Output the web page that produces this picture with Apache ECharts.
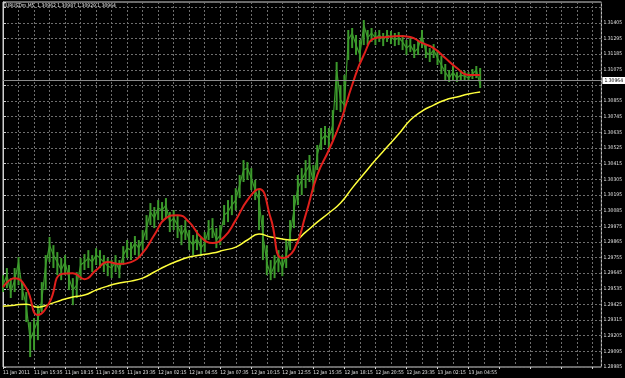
<!DOCTYPE html>
<html>
<head>
<meta charset="utf-8">
<script src="https://cdn.jsdelivr.net/npm/echarts@6/dist/echarts.min.js"></script>
<style>
  html, body { margin: 0; padding: 0; background: #000; }
  #chart { width: 625px; height: 378px; }
</style>
</head>
<body>
<div id="chart"></div>
<script>
  // chart header and last bid
  const symbolTitle = 'EURUSDm,M5  1.30962 1.30987 1.30929 1.30964'
  const lastPrice = 1.30964

  // time labels, one every 32 bars
  const timeLabels = [
    '11 Jan 2011', '11 Jan 15:35', '11 Jan 18:15', '11 Jan 20:55', '11 Jan 23:35',
    '12 Jan 02:15', '12 Jan 04:55', '12 Jan 07:35', '12 Jan 10:15', '12 Jan 12:55',
    '12 Jan 15:35', '12 Jan 18:15', '12 Jan 20:55', '12 Jan 23:35', '13 Jan 02:15',
    '13 Jan 04:55',
  ]

  // price (green), one sample every 4 bars
  const priceStep = 4
  const priceClose = [
    1.29561, 1.29631, 1.29512, 1.29596, 1.29723, 1.29526, 1.29420, 1.29174, 1.29244, 1.29315,
    1.29456, 1.29702, 1.29842, 1.29772, 1.29723, 1.29667, 1.29723, 1.29610, 1.29526, 1.29561,
    1.29702, 1.29723, 1.29751, 1.29723, 1.29772, 1.29751, 1.29723, 1.29695, 1.29681, 1.29723,
    1.29667, 1.29772, 1.29821, 1.29807, 1.29857, 1.29821, 1.29878, 1.29962, 1.30075, 1.30032,
    1.30103, 1.30089, 1.30124, 1.30004, 1.30032, 1.29983, 1.29913, 1.29962, 1.29878, 1.29842,
    1.29892, 1.29821, 1.29857, 1.29948, 1.29962, 1.29878, 1.29913, 1.30053, 1.30075, 1.30124,
    1.30159, 1.30265, 1.30370, 1.30384, 1.30314, 1.30229, 1.30159, 1.29913, 1.29723, 1.29631,
    1.29702, 1.29751, 1.29681, 1.29772, 1.29913, 1.30089, 1.30243, 1.30300, 1.30356, 1.30405,
    1.30286, 1.30476, 1.30581, 1.30616, 1.30595, 1.30687, 1.31074, 1.30863, 1.30827, 1.31285,
    1.31334, 1.31249, 1.31179, 1.31390, 1.31299, 1.31334, 1.31299, 1.31320, 1.31285, 1.31320,
    1.31306, 1.31285, 1.31299, 1.31271, 1.31228, 1.31249, 1.31200, 1.31228, 1.31320, 1.31200,
    1.31179, 1.31214, 1.31158, 1.31109, 1.31060, 1.31017, 1.31060, 1.31017, 1.31038, 1.31031,
    1.31017, 1.31045, 1.31074, 1.30964,
  ]
  const priceHigh = [
    1.29631, 1.29681, 1.29610, 1.29681, 1.29758, 1.29582, 1.29512, 1.29301, 1.29329, 1.29420,
    1.29582, 1.29772, 1.29899, 1.29842, 1.29793, 1.29751, 1.29772, 1.29702, 1.29610, 1.29652,
    1.29751, 1.29779, 1.29807, 1.29772, 1.29821, 1.29807, 1.29772, 1.29751, 1.29737, 1.29772,
    1.29737, 1.29835, 1.29878, 1.29864, 1.29906, 1.29878, 1.29948, 1.30053, 1.30138, 1.30110,
    1.30159, 1.30145, 1.30173, 1.30075, 1.30089, 1.30053, 1.29983, 1.30018, 1.29948, 1.29913,
    1.29948, 1.29892, 1.29934, 1.30018, 1.30032, 1.29962, 1.29983, 1.30124, 1.30159, 1.30194,
    1.30243, 1.30335, 1.30440, 1.30426, 1.30384, 1.30300, 1.30229, 1.30053, 1.29842, 1.29737,
    1.29772, 1.29807, 1.29772, 1.29878, 1.30018, 1.30194, 1.30335, 1.30384, 1.30440, 1.30476,
    1.30405, 1.30546, 1.30666, 1.30680, 1.30666, 1.30792, 1.31130, 1.30968, 1.31038, 1.31355,
    1.31369, 1.31320, 1.31285, 1.31425, 1.31355, 1.31369, 1.31341, 1.31355, 1.31334, 1.31355,
    1.31348, 1.31334, 1.31341, 1.31320, 1.31285, 1.31299, 1.31256, 1.31285, 1.31355, 1.31256,
    1.31228, 1.31256, 1.31214, 1.31172, 1.31116, 1.31074, 1.31102, 1.31059, 1.31074, 1.31067,
    1.31059, 1.31081, 1.31102, 1.31088,
  ]
  const priceLow = [
    1.29512, 1.29540, 1.29470, 1.29512, 1.29561, 1.29455, 1.29301, 1.29055, 1.29104, 1.29174,
    1.29371, 1.29526, 1.29723, 1.29681, 1.29631, 1.29596, 1.29631, 1.29526, 1.29420, 1.29470,
    1.29596, 1.29667, 1.29681, 1.29652, 1.29702, 1.29681, 1.29652, 1.29624, 1.29610, 1.29652,
    1.29610, 1.29702, 1.29751, 1.29737, 1.29772, 1.29751, 1.29807, 1.29878, 1.29983, 1.29962,
    1.30018, 1.30018, 1.30032, 1.29934, 1.29948, 1.29892, 1.29842, 1.29878, 1.29807, 1.29772,
    1.29807, 1.29765, 1.29793, 1.29878, 1.29892, 1.29821, 1.29842, 1.29983, 1.30004, 1.30053,
    1.30089, 1.30173, 1.30286, 1.30300, 1.30229, 1.30159, 1.29948, 1.29737, 1.29631, 1.29596,
    1.29610, 1.29652, 1.29624, 1.29681, 1.29807, 1.29962, 1.30124, 1.30194, 1.30243, 1.30286,
    1.30215, 1.30370, 1.30511, 1.30546, 1.30525, 1.30581, 1.30792, 1.30778, 1.30778, 1.31144,
    1.31228, 1.31179, 1.31130, 1.31249, 1.31249, 1.31271, 1.31249, 1.31271, 1.31242, 1.31271,
    1.31256, 1.31242, 1.31249, 1.31214, 1.31179, 1.31200, 1.31158, 1.31179, 1.31228, 1.31158,
    1.31130, 1.31158, 1.31109, 1.31045, 1.31003, 1.30989, 1.31003, 1.30989, 1.31003, 1.31003,
    1.30996, 1.31010, 1.31017, 1.30947,
  ]

  // moving averages, one value every 12 bars
  const maStep = 12
  const maFast = [
    1.29547, 1.29610, 1.29540, 1.29350, 1.29441, 1.29638, 1.29645, 1.29603, 1.29666, 1.29723,
    1.29709, 1.29723, 1.29787, 1.29913, 1.30032, 1.30053, 1.30004, 1.29899, 1.29857, 1.29899,
    1.30018, 1.30159, 1.30236, 1.30032, 1.29751, 1.29808, 1.30053, 1.30335, 1.30511, 1.30708,
    1.30968, 1.31179, 1.31299, 1.31306, 1.31313, 1.31306, 1.31264, 1.31228, 1.31158, 1.31088,
    1.31038, 1.31038,
  ]
  const maSlow = [
    1.29413, 1.29420, 1.29427, 1.29406, 1.29427, 1.29455, 1.29477, 1.29491, 1.29526, 1.29554,
    1.29575, 1.29589, 1.29610, 1.29653, 1.29695, 1.29730, 1.29758, 1.29772, 1.29786, 1.29807,
    1.29828, 1.29878, 1.29920, 1.29899, 1.29885, 1.29878, 1.29934, 1.30004, 1.30068, 1.30138,
    1.30243, 1.30342, 1.30440, 1.30532, 1.30623, 1.30722, 1.30785, 1.30827, 1.30863, 1.30884,
    1.30905, 1.30919,
  ]

  // axis range
  const yMin = 1.28985
  const yMax = 1.31552
  const yStep = 0.0011
  const xMax = 617

  const toPairs = (arr, step) => arr.map((v, i) => [i * step, v])
  const smallFont = "'Liberation Sans Narrow', 'DejaVu Sans Condensed', 'Liberation Sans', sans-serif"
  const gridLine = { show: true, lineStyle: { color: '#6e6e6e', type: [2, 2], width: 1 } }
  const greenColor = '#3c9a2c'

  const chart = echarts.init(document.getElementById('chart'))
  chart.setOption({
    backgroundColor: '#000',
    animation: false,
    // header text top-left
    graphic: [
      {
        type: 'text',
        left: 3,
        top: 3,
        style: { text: symbolTitle, fill: '#e8e8e8', font: '5px ' + smallFont },
      },
    ],
    grid: {
      left: 1,
      right: 21,
      top: 2,
      bottom: 11,
      show: true,
      borderColor: '#d0d0d0',
      borderWidth: 1,
    },
    xAxis: {
      type: 'value',
      min: 0,
      max: xMax,
      interval: 32,
      axisLine: { show: false },
      axisTick: { show: true, length: 2, lineStyle: { color: '#d0d0d0' } },
      axisLabel: {
        align: 'left',
        margin: 3,
        fontSize: 5,
        fontFamily: smallFont,
        color: '#e0e0e0',
        interval: 0,
        hideOverlap: false,
        showMinLabel: true,
        showMaxLabel: false,
        formatter: (v) => (v % 32 === 0 && timeLabels[v / 32]) || '',
      },
      splitLine: gridLine,
      minorTick: { show: false, splitNumber: 2 },
      minorSplitLine: gridLine,
    },
    yAxis: {
      type: 'value',
      position: 'right',
      min: yMin,
      max: yMax,
      interval: yStep,
      axisLine: { show: true, lineStyle: { color: '#d0d0d0' } },
      axisTick: { show: true, inside: false, length: 3, lineStyle: { color: '#d0d0d0' } },
      axisLabel: {
        margin: 2,
        fontSize: 5,
        fontFamily: smallFont,
        color: '#e0e0e0',
        interval: 0,
        hideOverlap: false,
        showMinLabel: true,
        formatter: (v) =>
          v > yMax - yStep / 2 || Math.abs(v - lastPrice) < yStep / 3 ? '' : v.toFixed(5),
      },
      splitLine: gridLine,
    },
    series: [
      // high-low range of the price bars
      {
        name: 'range',
        type: 'custom',
        data: priceHigh.map((h, i) => [i * priceStep, priceLow[i], h]),
        encode: { x: 0, y: [1, 2] },
        renderItem: (params, api) => {
          const lo = api.coord([api.value(0), api.value(1)])
          const hi = api.coord([api.value(0), api.value(2)])
          return {
            type: 'line',
            shape: { x1: lo[0], y1: lo[1], x2: hi[0], y2: hi[1] },
            style: { stroke: greenColor, lineWidth: 2 },
          }
        },
        z: 1,
      },
      {
        name: 'price',
        type: 'line',
        data: toPairs(priceClose, priceStep),
        symbol: 'none',
        lineStyle: { color: greenColor, width: 1.2 },
        z: 2,
        // bid line with price box
        markLine: {
          silent: true,
          symbol: 'none',
          lineStyle: { color: '#8c8c8c', type: 'solid', width: 1 },
          label: {
            position: 'end',
            distance: 1,
            formatter: lastPrice.toFixed(5),
            backgroundColor: '#ffffff',
            color: '#000',
            padding: [1, 2],
            fontSize: 5,
            fontFamily: smallFont,
          },
          data: [{ yAxis: lastPrice }],
        },
      },
      {
        name: 'ma slow',
        type: 'line',
        data: toPairs(maSlow, maStep),
        symbol: 'none',
        smooth: true,
        lineStyle: { color: '#ffff3c', width: 1.5 },
        z: 3,
      },
      {
        name: 'ma fast',
        type: 'line',
        data: toPairs(maFast, maStep),
        symbol: 'none',
        smooth: true,
        lineStyle: { color: '#e0201c', width: 2 },
        z: 4,
      },
    ],
  })
</script>
</body>
</html>
